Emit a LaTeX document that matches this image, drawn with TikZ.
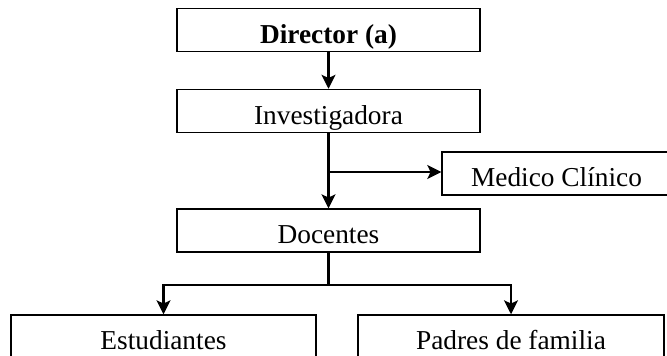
\documentclass[tikz,border=0pt]{standalone}
\usepackage{fontspec}
\setmainfont{Liberation Serif}
\usetikzlibrary{arrows.meta}

\begin{document}
\begin{tikzpicture}[x=0.75pt,y=0.75pt,yscale=-1,xscale=1,
  caja/.style={draw,line width=1.1pt,inner sep=0pt,minimum height=32.25pt,text height=20pt,text depth=0pt,font=\fontsize{20.5}{24}\selectfont},
  flecha/.style={line width=1.6pt,-{Stealth[length=10.5pt,width=10.5pt,inset=2.5pt]}},
  linea/.style={line width=1.6pt}]
%set diagram size 667 x 356
\clip (0,0) rectangle (667,356);

% Cajas
\node [caja,minimum width=227.25pt] (dir) at (328.5,30) {\textbf{Director (a)}};
\node [caja,minimum width=227.25pt] (inv) at (328.5,111) {Investigadora};
\node [caja,minimum width=171.75pt] (med) at (556.5,173.5) {Medico Clínico};
\node [caja,minimum width=227.25pt] (doc) at (328.5,230.5) {Docentes};
\node [caja,minimum width=228.75pt] (est) at (163.5,336.5) {Estudiantes};
\node [caja,minimum width=229.5pt] (pad) at (511,336.5) {Padres de familia};

% Puntos de rama
\coordinate (rama) at (328.5,172);
\coordinate (bif) at (328.5,285);

% Conectores
\draw [flecha] (dir) -- (inv);
\draw [flecha] (inv) -- (doc);
\draw [flecha] (rama) -- (med.west |- rama);
\draw [linea] (doc) -- (bif);
\draw [flecha] (bif) -| (est);
\draw [flecha] (bif) -| (pad);

\end{tikzpicture}
\end{document}
